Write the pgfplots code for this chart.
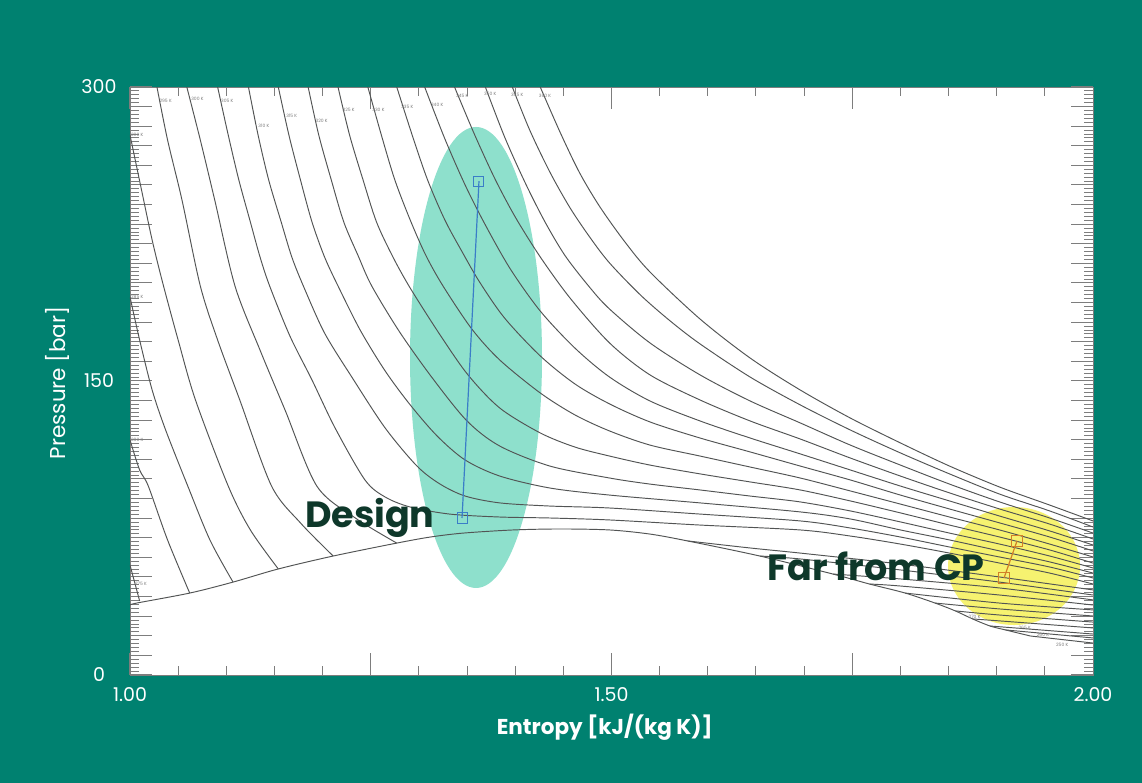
\documentclass[border=0pt]{standalone}
\usepackage{fontspec}
\setmainfont{Poppins}
\usepackage{pgfplots}
\pgfplotsset{compat=1.18}
\definecolor{bgteal}{RGB}{0,129,112}
\definecolor{mint}{RGB}{142,224,204}
\definecolor{ylw}{RGB}{246,242,112}
\definecolor{curvec}{RGB}{82,84,84}
\definecolor{tickgray}{RGB}{125,125,125}
\definecolor{dgreen}{RGB}{14,56,42}
\definecolor{blu}{RGB}{58,125,200}
\definecolor{orng}{RGB}{210,128,40}
\tikzset{lbl/.style={font=\fontsize{4.5}{5}\selectfont, text=gray, inner sep=0pt}}
\begin{document}
\begin{tikzpicture}
\fill[bgteal] (-130pt,-108pt) rectangle (1012pt,675pt);
\begin{axis}[
  at={(0pt,0pt)}, anchor=south west,
  scale only axis, width=963pt, height=588pt,
  xmin=1, xmax=2, ymin=0, ymax=300,
  axis background/.style={fill=white},
  axis line style={draw=tickgray, line width=0.8pt},
  xtick={1,1.25,1.5,1.75,2}, xticklabels={1.00,,1.50,,2.00},
  minor x tick num=4,
  ytick={0,10,...,300},
  yticklabels={0,,,,,,,,,,,,,,,150,,,,,,,,,,,,,,,300},
  minor y tick num=4,
  major tick length=22pt, minor tick length=9pt,
  tick style={draw=tickgray, line width=1pt},
  tick align=inside,
  ticklabel style={font=\fontsize{19}{22}\selectfont, text=white},
  /pgf/number format/assume math mode=true,
  xticklabel style={yshift=-9pt},
  yticklabel style={anchor=center, xshift=-31pt},
  xlabel={\bfseries Entropy [kJ/(kg K)]},
  ylabel={Pressure [bar]},
  xlabel style={font=\fontsize{21.5}{24}\selectfont, text=white, at={(axis description cs:0.493,-0.0884)}, anchor=center},
  ylabel style={font=\fontsize{21.5}{24}\selectfont, text=white, at={(axis description cs:-0.075,0.4966)}, anchor=center},
  iso/.style={curvec, line width=0.95pt, smooth, tension=0.5, mark=none},
]
% highlight ellipses
\fill[mint] (axis cs:1.3593,162.0) ellipse [x radius=66pt, y radius=230.5pt];
\fill[ylw] (axis cs:1.918,55.6) ellipse [x radius=66pt, y radius=59pt];

% supercritical isotherms (360 K ... 305 K)
\addplot[iso] coordinates {(1.426,300.0) (1.447,276.5) (1.467,256.1) (1.488,238.8) (1.514,220.9) (1.540,205.6) (1.592,181.6) (1.644,161.7) (1.696,145.4) (1.748,131.1) (1.800,118.4) (1.851,106.6) (1.903,95.9) (1.955,86.7) (2.000,78.6)};
\addplot[iso] coordinates {(1.397,300.0) (1.415,278.1) (1.436,256.6) (1.457,238.3) (1.478,223.0) (1.498,210.2) (1.530,193.9) (1.561,180.6) (1.592,168.9) (1.644,152.0) (1.696,137.8) (1.748,125.0) (1.800,113.3) (1.851,102.6) (1.903,92.3) (1.955,83.7) (2.000,75.5)};
\addplot[iso] coordinates {(1.369,300.0) (1.389,274.5) (1.410,251.5) (1.431,231.1) (1.452,213.8) (1.478,197.4) (1.498,186.7) (1.540,169.4) (1.592,153.1) (1.644,139.8) (1.696,128.6) (1.748,117.3) (1.800,107.1) (1.851,97.4) (1.903,88.3) (1.955,80.1) (2.000,72.4)};
\addplot[iso] coordinates {(1.337,300.0) (1.358,275.5) (1.379,253.1) (1.400,233.7) (1.426,213.3) (1.457,192.3) (1.498,169.4) (1.540,153.1) (1.592,140.3) (1.644,129.6) (1.696,120.4) (1.748,110.7) (1.800,101.5) (1.851,92.9) (1.903,84.7) (1.955,77.0) (2.000,69.4)};
\addplot[iso] coordinates {(1.306,300.0) (1.327,273.5) (1.348,250.0) (1.369,229.6) (1.395,207.1) (1.426,185.7) (1.462,166.8) (1.498,152.0) (1.540,139.8) (1.592,129.6) (1.644,120.9) (1.696,112.8) (1.748,104.6) (1.800,96.4) (1.851,88.8) (1.903,81.1) (1.955,73.5) (2.000,66.3)};
\addplot[iso] coordinates {(1.277,300.0) (1.293,275.5) (1.309,252.6) (1.327,232.1) (1.345,215.8) (1.363,200.5) (1.389,182.1) (1.426,162.8) (1.462,148.5) (1.498,138.3) (1.540,129.1) (1.592,120.9) (1.644,113.8) (1.696,106.6) (1.748,99.5) (1.800,91.8) (1.851,84.7) (1.903,77.6) (1.955,70.4) (2.000,63.3)};
\addplot[iso] coordinates {(1.247,300.0) (1.261,275.5) (1.275,252.6) (1.291,232.1) (1.307,214.3) (1.325,198.5) (1.355,176.5) (1.384,160.7) (1.426,143.9) (1.462,132.7) (1.498,124.5) (1.540,117.3) (1.592,111.7) (1.644,106.1) (1.696,100.5) (1.748,93.9) (1.800,87.2) (1.851,80.6) (1.903,74.0) (1.955,66.8) (2.000,60.2)};
\addplot[iso] coordinates {(1.216,300.0) (1.228,275.5) (1.242,252.6) (1.256,231.1) (1.273,213.3) (1.291,197.4) (1.322,173.5) (1.351,153.1) (1.384,136.2) (1.426,123.5) (1.462,116.3) (1.498,111.7) (1.540,107.1) (1.592,102.6) (1.644,98.5) (1.696,94.4) (1.748,88.8) (1.800,82.7) (1.851,76.5) (1.903,70.4) (1.955,63.8) (2.000,57.1)};
\addplot[iso] coordinates {(1.185,300.0) (1.196,275.5) (1.209,252.6) (1.222,231.1) (1.237,213.8) (1.251,198.5) (1.280,175.0) (1.314,151.5) (1.350,129.6) (1.384,116.8) (1.436,106.6) (1.498,100.5) (1.540,97.4) (1.592,94.4) (1.644,91.3) (1.696,88.3) (1.748,83.7) (1.800,78.1) (1.851,72.4) (1.903,66.8) (1.955,60.7) (2.000,54.6)};
\addplot[iso] coordinates {(1.154,300.0) (1.165,275.5) (1.177,252.6) (1.189,231.1) (1.202,213.3) (1.216,198.5) (1.239,176.0) (1.265,155.1) (1.291,137.8) (1.319,121.9) (1.348,109.7) (1.384,101.5) (1.436,95.4) (1.498,91.8) (1.592,87.8) (1.696,83.2) (1.748,79.6) (1.800,74.0) (1.851,68.9) (1.903,63.3) (1.955,57.7) (2.000,52.0)};
\addplot[iso] coordinates {(1.123,300.0) (1.133,275.5) (1.144,252.6) (1.157,231.1) (1.168,213.3) (1.180,198.5) (1.202,174.5) (1.231,151.5) (1.265,126.0) (1.298,106.6) (1.322,97.4) (1.348,91.3) (1.384,87.8) (1.436,86.2) (1.498,85.2) (1.592,82.1) (1.696,78.6) (1.748,75.0) (1.800,70.4) (1.851,65.3) (1.903,60.2) (1.955,55.1) (2.000,49.5)};
\addplot[iso] coordinates {(1.091,300.0) (1.102,275.5) (1.113,252.6) (1.125,231.1) (1.135,213.3) (1.145,198.5) (1.166,173.0) (1.189,150.5) (1.213,126.0) (1.244,99.5) (1.265,90.8) (1.291,85.7) (1.332,82.1) (1.384,80.6) (1.436,80.1) (1.498,79.1) (1.592,76.5) (1.696,74.0) (1.748,70.9) (1.800,66.8) (1.851,62.2) (1.903,57.1) (1.955,52.0) (2.000,46.4)};

% subcritical isotherms, liquid side (300 K ... 275 K)
\addplot[iso] coordinates {(1.059,300.0) (1.073,273.0) (1.088,242.3) (1.109,198.5) (1.135,165.8) (1.161,135.2) (1.194,96.4) (1.234,80.1) (1.277,67.3)};
\addplot[iso] coordinates {(1.028,300.0) (1.039,273.0) (1.054,242.3) (1.073,198.5) (1.091,170.9) (1.114,140.3) (1.147,96.4) (1.177,77.6) (1.211,60.7)};
\addplot[iso] coordinates {(1.000,275.5) (1.012,247.4) (1.023,221.9) (1.034,200.0) (1.050,170.9) (1.068,140.3) (1.102,96.4) (1.125,74.0) (1.154,54.1)};
\addplot[iso] coordinates {(1.000,192.9) (1.010,170.9) (1.023,145.4) (1.037,125.0) (1.060,96.4) (1.083,68.9) (1.107,47.4)};
\addplot[iso] coordinates {(1.000,119.9) (1.010,104.6) (1.019,96.4) (1.039,68.9) (1.062,41.8)};
\addplot[iso] coordinates {(1.000,56.1) (1.010,37.8)};

% saturation dome
\addplot[iso] coordinates {(1.000,35.7) (1.007,36.7) (1.062,41.8) (1.107,47.4) (1.154,54.1) (1.211,60.7) (1.277,67.3) (1.312,70.4) (1.346,72.4) (1.398,74.0) (1.447,74.5) (1.498,74.0) (1.540,71.9) (1.579,68.4) (1.654,60.7) (1.730,51.5) (1.768,46.4) (1.805,41.8) (1.836,36.7) (1.857,32.7) (1.875,28.6) (1.893,25.0) (1.909,23.0) (1.935,19.9)};

% subcritical isotherms, vapour side (300 K ... 250 K)
\addplot[iso] coordinates {(1.579,68.4) (1.644,64.8) (1.696,62.2) (1.800,56.6) (1.903,50.0) (2.000,43.4)};
\addplot[iso] coordinates {(1.654,60.7) (1.696,59.2) (1.800,53.6) (1.903,47.4) (2.000,40.8)};
\addplot[iso] coordinates {(1.730,51.5) (1.800,49.0) (1.903,44.4) (2.000,38.3)};
\addplot[iso] coordinates {(1.768,46.4) (1.800,45.4) (1.903,40.8) (2.000,35.7)};
\addplot[iso] coordinates {(1.805,41.8) (1.903,36.7) (2.000,33.2)};
\addplot[iso] coordinates {(1.836,36.7) (1.903,33.7) (2.000,30.1)};
\addplot[iso] coordinates {(1.857,32.7) (1.903,30.6) (2.000,27.0)};
\addplot[iso] coordinates {(1.875,28.6) (1.903,27.6) (2.000,24.0)};
\addplot[iso] coordinates {(1.893,25.0) (2.000,20.9)};
\addplot[iso] coordinates {(1.909,23.0) (2.000,18.9)};
\addplot[iso] coordinates {(1.935,19.9) (2.000,16.3)};

% process lines
\addplot[blu, line width=1.2pt, mark=square, mark size=5pt, mark options={line width=1pt}] coordinates {(1.3624,252.0) (1.3448,80.1)};
\addplot[orng, line width=1.2pt, mark=square, mark size=5.5pt, mark options={line width=1pt}] coordinates {(1.9211,68.4) (1.9076,49.5)};

% isotherm labels
\node[lbl] at (axis cs:1.037,292.9) {295 K};
\node[lbl] at (axis cs:1.070,293.9) {300 K};
\node[lbl] at (axis cs:1.101,292.9) {305 K};
\node[lbl] at (axis cs:1.139,280.1) {310 K};
\node[lbl] at (axis cs:1.168,285.2) {315 K};
\node[lbl] at (axis cs:1.199,282.7) {320 K};
\node[lbl] at (axis cs:1.227,288.3) {325 K};
\node[lbl] at (axis cs:1.258,288.3) {330 K};
\node[lbl] at (axis cs:1.288,289.8) {335 K};
\node[lbl] at (axis cs:1.319,290.8) {340 K};
\node[lbl] at (axis cs:1.345,295.4) {345 K};
\node[lbl] at (axis cs:1.374,296.4) {350 K};
\node[lbl] at (axis cs:1.402,295.9) {355 K};
\node[lbl] at (axis cs:1.431,295.4) {360 K};
\node[lbl, anchor=west] at (axis cs:1.001,275.5) {290 K};
\node[lbl, anchor=west] at (axis cs:1.001,192.9) {285 K};
\node[lbl, anchor=west] at (axis cs:1.001,119.9) {280 K};
\node[lbl, anchor=west] at (axis cs:1.005,46.4) {275 K};
\node[lbl] at (axis cs:1.877,29.6) {270 K};
\node[lbl] at (axis cs:1.929,24.0) {265 K};
\node[lbl] at (axis cs:1.948,20.4) {260 K};
\node[lbl] at (axis cs:1.968,15.3) {250 K};

% annotations
\node[font=\fontsize{36.5}{40}\selectfont\bfseries, text=dgreen] at (axis cs:1.249,80.1) {Design};
\node[font=\fontsize{36.5}{40}\selectfont\bfseries, text=dgreen] at (axis cs:1.7747,55.6) {Far from CP};
\end{axis}
\end{tikzpicture}
\end{document}
